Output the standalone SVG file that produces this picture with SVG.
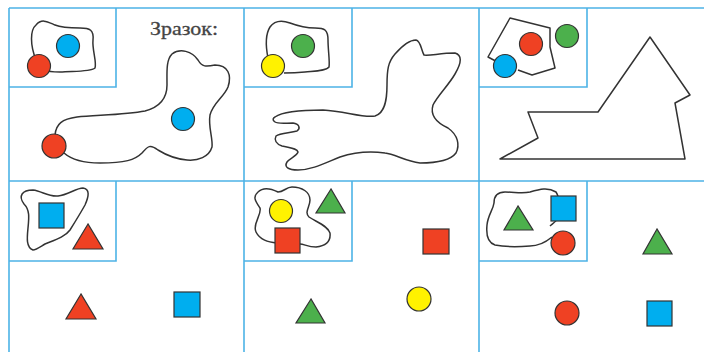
<svg xmlns="http://www.w3.org/2000/svg" width="704" height="352" viewBox="0 0 704 352">
<style>
.frame{fill:none;stroke:#4db3e6;stroke-width:1.6}
.out{fill:none;stroke:#333;stroke-width:1.5;stroke-linejoin:round}
.sh{stroke:#333;stroke-width:1.2}
.b{fill:#00aeef}.r{fill:#ef4123}.g{fill:#4cb04c}.y{fill:#fff200}
text{font-family:"Liberation Serif",serif;font-size:19px;fill:#444;stroke:#444;stroke-width:0.3}
</style>
<rect width="704" height="352" fill="#fff"/>
<g id="grid">
<path class="frame" d="M9,8H704M9,8V352M244,8V352M479,8V352M9,181H704"/>
<path class="frame" d="M9,87H116V8M244,87H352V8M479,87H587V8"/>
<path class="frame" d="M9,261H116V181M244,261H352V181M479,261H587V181"/>
</g>
<g id="panel1">
<path class="out" d="M36,60 C30,45 30,30 36,25 C42,18 48,22 55,25 C62,28 70,28 80,28 C90,28 94,30 93,40 C92,50 97,62 95,68 C90,72 75,71 60,72 C52,72 48,72 46,70"/>
<circle class="sh b" cx="68" cy="46" r="11.5"/>
<circle class="sh r" cx="39" cy="66" r="11.5"/>
<text x="150" y="35" textLength="68" lengthAdjust="spacingAndGlyphs">Зразок:</text>
<path class="out" d="M55,135 C56,124 62,119 77,117 C95,115 125,115 145,111 C160,107 167,98 167,85 C167,72 166,60 172,54 C180,48 192,51 198,60 C202,67 206,67 215,65 C228,65 232,75 228,87 C224,97 213,103 210,115 C208,127 213,138 212,147 C209,157 198,161 187,160 C176,159 166,155 158,150 C150,144 148,146 142,153 C135,160 125,163 100,163 C85,163 72,160 64,153"/>
<circle class="sh b" cx="183" cy="119" r="11.5"/>
<circle class="sh r" cx="54" cy="146" r="12"/>
</g>
<g id="panel2">
<path class="out" d="M268,58 C266,48 265,35 270,27 C275,20 282,20 290,23 C298,26 305,28 315,28 C325,28 328,30 328,40 C328,50 330,62 329,67 C326,71 315,71 305,72 C295,73 290,73 284,73"/>
<circle class="sh g" cx="303" cy="46" r="11.5"/>
<circle class="sh y" cx="273" cy="66" r="11.5"/>
<path class="out" d="M275,117 C282,112 300,110 323,110 C345,111 362,118 375,116 C385,113 387,100 387,85 C387,70 388,62 395,54 C402,46 410,40 416,40 C421,41 421,50 424,55 C430,56 440,53 455,53 C462,55 462,62 455,74 C448,86 438,95 433,105 C430,115 435,122 448,128 C458,135 460,145 456,153 C450,161 435,163 420,163 C405,161 395,154 385,153 C370,151 355,152 340,157 C325,163 312,170 298,170 C288,170 284,167 287,162 C290,158 297,156 298,152 C297,148 290,148 282,146 C276,144 274,140 276,136 C280,133 290,133 297,131 C301,128 299,124 293,123 C285,123 278,124 275,122 C272,120 273,118 275,117Z"/>
</g>
<g id="panel3">
<path class="out" d="M505,66 L488,57 L510,18 L550,28 L550,47 L555,68 L532,75 L518,70"/>
<circle class="sh r" cx="531" cy="44" r="11.5"/>
<circle class="sh g" cx="567" cy="36" r="11.5"/>
<circle class="sh b" cx="505" cy="66" r="11.5"/>
<path class="out" d="M500,159 L538,138 L528,112 L598,112 L650,37 L690,95 L675,103 L685,159Z"/>
</g>
<g id="panel4">
<path class="out" d="M33,250 C26,247 27,238 28,228 C29,218 30,210 24,204 C18,196 22,190 33,190 C42,191 48,197 58,196 C68,195 76,188 83,188 C90,189 89,196 85,205 C80,214 75,222 70,230 C65,237 55,240 45,244 C40,247 36,250 33,250Z"/>
<rect class="sh b" x="39" y="203" width="25" height="25"/>
<polygon class="sh r" points="88,224 73,249 103,249"/>
<polygon class="sh r" points="81,294 66,319 96,319"/>
<rect class="sh b" x="174" y="292" width="26" height="25"/>
</g>
<g id="panel5">
<path class="out" d="M277,243 C268,242 260,240 256,232 C252,224 262,215 260,208 C256,202 252,197 258,192 C264,186 272,189 278,192 C284,192 286,187 292,187 C302,187 310,192 310,200 C310,207 304,212 309,217 C316,222 327,225 330,233 C331,242 325,246 316,247 C308,247 304,244 300,244"/>
<circle class="sh y" cx="281" cy="211" r="11.5"/>
<rect class="sh r" x="275" y="228" width="25" height="25"/>
<polygon class="sh g" points="331,189 316,213 345,213"/>
<rect class="sh r" x="423" y="229" width="26" height="25"/>
<circle class="sh y" cx="419" cy="299" r="12"/>
<polygon class="sh g" points="311,299 296,323 325,323"/>
</g>
<g id="panel6">
<path class="out" d="M552,237 C546,242 540,246 530,246 C518,247 505,247 495,245 C488,243 486,235 487,225 C488,215 493,210 494,203 C494,197 496,192 505,192 C515,192 522,194 530,192 C540,189 548,187 556,192 C560,198 560,210 558,218 C556,222 552,224 550,226"/>
<polygon class="sh g" points="518,206 504,230 533,230"/>
<rect class="sh b" x="551" y="196" width="25" height="25"/>
<circle class="sh r" cx="563" cy="243" r="12"/>
<polygon class="sh g" points="657,229 643,254 672,254"/>
<circle class="sh r" cx="567" cy="313" r="12"/>
<rect class="sh b" x="647" y="301" width="25" height="25"/>
</g>
</svg>
